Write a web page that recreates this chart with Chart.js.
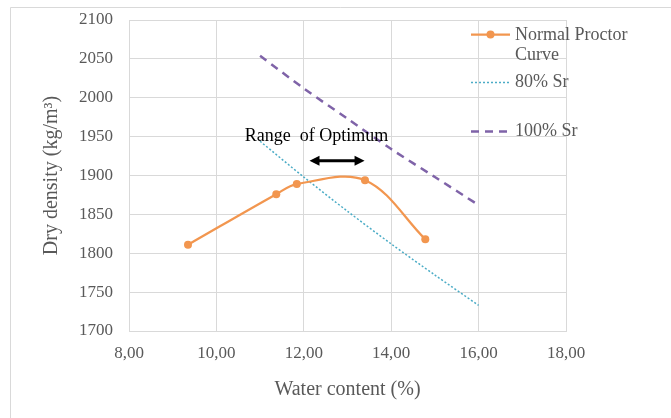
<!DOCTYPE html>
<html>
<head>
<meta charset="utf-8">
<script src="https://cdn.jsdelivr.net/npm/chart.js@4"></script>
<style>
  html, body { margin: 0; padding: 0; background: #fff; }
  #wrap { width: 671px; height: 418px; position: relative; }
</style>
</head>
<body>
<div id="wrap"><canvas id="myChart"></canvas></div>
<script>
// compaction test points
const waterContent = [9.35, 11.37, 11.84, 13.40, 14.78]
const dryDensity = [1811, 1876, 1889, 1894, 1818]

// saturation lines
const srWater = [11, 12, 13, 14, 15, 16]
const sr80 = [1944, 1898, 1854, 1812, 1772, 1733]
const sr100 = [2054, 2012, 1973, 1934, 1898, 1862]

const seriesNames = ['Normal Proctor Curve', '80% Sr', '100% Sr']

// optimum range arrow (water content) and its level
const optimumRange = [12.13, 13.39]
const optimumLevel = 1919
const rangeLabel = { text: 'Range  of Optimum', x: 10.65, y: 1951 }

const ORANGE = '#F2964F'
const TEAL = '#4BACC6'
const PURPLE = '#7F63A8'
const SERIF = '"Liberation Serif", "Times New Roman", serif'

const toXY = (xs, ys) => xs.map((x, i) => ({ x, y: ys[i] }))
const comma = v => Number(v).toFixed(2).replace('.', ',')

const canvas = document.getElementById('myChart')

// white page with the thin frame line at top and left
const frame = {
    id: 'frame',
    beforeDraw(chart) {
        const ctx = chart.ctx
        ctx.save()
        ctx.fillStyle = '#fff'
        ctx.fillRect(0, 0, chart.width, chart.height)
        ctx.strokeStyle = '#d9d9d9'
        ctx.lineWidth = 1
        ctx.beginPath()
        ctx.moveTo(10.5, chart.height)
        ctx.lineTo(10.5, 7.5)
        ctx.lineTo(chart.width, 7.5)
        ctx.stroke()
        ctx.restore()
    }
}

// arrow, its label and the legend on the right
const extras = {
    id: 'extras',
    afterDraw(chart) {
        const ctx = chart.ctx
        const xs = chart.scales.x
        const ys = chart.scales.y
        ctx.save()

        // double headed arrow
        const x1 = xs.getPixelForValue(optimumRange[0])
        const x2 = xs.getPixelForValue(optimumRange[1])
        const ay = ys.getPixelForValue(optimumLevel)
        ctx.strokeStyle = '#000'
        ctx.fillStyle = '#000'
        ctx.lineWidth = 3
        ctx.beginPath()
        ctx.moveTo(x1 + 6, ay)
        ctx.lineTo(x2 - 6, ay)
        ctx.stroke()
        ctx.beginPath()
        ctx.moveTo(x1, ay)
        ctx.lineTo(x1 + 10, ay - 5)
        ctx.lineTo(x1 + 10, ay + 5)
        ctx.closePath()
        ctx.fill()
        ctx.beginPath()
        ctx.moveTo(x2, ay)
        ctx.lineTo(x2 - 10, ay - 5)
        ctx.lineTo(x2 - 10, ay + 5)
        ctx.closePath()
        ctx.fill()

        ctx.font = '18px ' + SERIF
        ctx.textBaseline = 'middle'
        ctx.textAlign = 'left'
        ctx.fillText(rangeLabel.text, xs.getPixelForValue(rangeLabel.x), ys.getPixelForValue(rangeLabel.y))

        // legend
        const lx1 = 471, lx2 = 510, tx = 515
        ctx.fillStyle = '#595959'
        ctx.font = '18px ' + SERIF

        ctx.strokeStyle = ORANGE
        ctx.lineWidth = 2.25
        ctx.setLineDash([])
        ctx.beginPath()
        ctx.moveTo(lx1, 34.5)
        ctx.lineTo(lx2, 34.5)
        ctx.stroke()
        ctx.fillStyle = ORANGE
        ctx.beginPath()
        ctx.arc((lx1 + lx2) / 2, 34.5, 4, 0, Math.PI * 2)
        ctx.fill()
        ctx.fillStyle = '#595959'
        const words = seriesNames[0].split(' ')
        ctx.fillText(words.slice(0, 2).join(' '), tx, 35)
        ctx.fillText(words[2], tx, 55)

        ctx.strokeStyle = TEAL
        ctx.lineWidth = 1.5
        ctx.setLineDash([2, 2])
        ctx.beginPath()
        ctx.moveTo(lx1, 82.5)
        ctx.lineTo(lx2, 82.5)
        ctx.stroke()
        ctx.fillText(seriesNames[1], tx, 82)

        ctx.strokeStyle = PURPLE
        ctx.lineWidth = 2.5
        ctx.setLineDash([8, 6])
        ctx.beginPath()
        ctx.moveTo(lx1, 131.5)
        ctx.lineTo(lx2, 131.5)
        ctx.stroke()
        ctx.fillText(seriesNames[2], tx, 131)

        ctx.restore()
    }
}

const config = {
    type: 'line',
    data: {
        datasets: [{
            label: seriesNames[0],
            data: toXY(waterContent, dryDensity),
            borderColor: ORANGE,
            backgroundColor: ORANGE,
            borderWidth: 2.25,
            pointRadius: 4,
            pointHoverRadius: 4,
            pointBorderWidth: 0,
            tension: 0.35
        }, {
            label: seriesNames[1],
            data: toXY(srWater, sr80),
            borderColor: TEAL,
            borderWidth: 1.5,
            borderDash: [2, 2],
            pointRadius: 0,
            tension: 0.3
        }, {
            label: seriesNames[2],
            data: toXY(srWater, sr100),
            borderColor: PURPLE,
            borderWidth: 2.5,
            borderDash: [8, 6],
            pointRadius: 0,
            tension: 0.3
        }]
    },
    options: {
        responsive: true,
        maintainAspectRatio: false,
        animation: false,
        layout: {
            padding: { left: 36, right: 105, top: 20, bottom: 12 }
        },
        plugins: {
            legend: { display: false },
            tooltip: { enabled: false }
        },
        scales: {
            x: {
                type: 'linear',
                min: 8,
                max: 18,
                ticks: {
                    stepSize: 2,
                    padding: 12,
                    color: '#595959',
                    font: { family: SERIF, size: 17 },
                    callback: comma
                },
                grid: { color: '#d9d9d9', drawTicks: false },
                border: { color: '#d9d9d9' },
                title: {
                    display: true,
                    text: 'Water content (%)',
                    color: '#595959',
                    font: { family: SERIF, size: 20 },
                    padding: { top: 4, bottom: 4 }
                },
                afterFit(scale) { scale.height = 75 }
            },
            y: {
                min: 1700,
                max: 2100,
                ticks: {
                    stepSize: 50,
                    padding: 16,
                    color: '#595959',
                    font: { family: SERIF, size: 17 },
                    callback: v => String(v)
                },
                grid: { color: '#d9d9d9', drawTicks: false },
                border: { color: '#d9d9d9' },
                title: {
                    display: true,
                    text: 'Dry density (kg/m³)',
                    color: '#595959',
                    font: { family: SERIF, size: 20 },
                    padding: { top: 4, bottom: 4 }
                },
                afterFit(scale) {
                    scale.width = 93
                    scale.paddingTop = 0
                    scale.paddingBottom = 0
                }
            }
        }
    },
    plugins: [frame, extras]
}

new Chart(canvas, config)
</script>
</body>
</html>
